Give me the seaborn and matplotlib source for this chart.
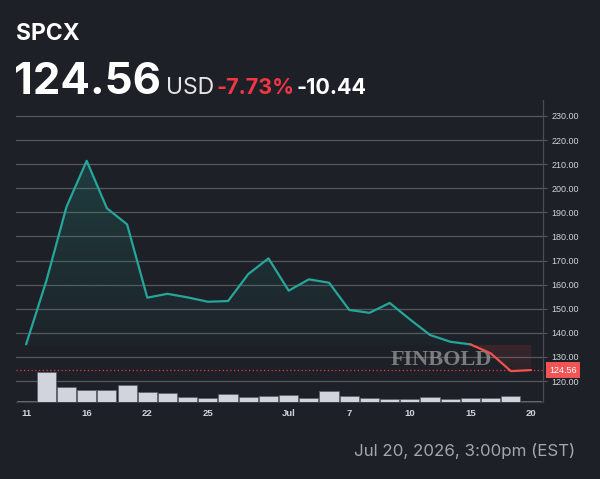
import numpy as np
import pandas as pd
import seaborn as sns
import matplotlib.pyplot as plt
from matplotlib.colors import LinearSegmentedColormap, to_rgb

# header texts
ticker = 'SPCX'
last_price = 124.56
currency = 'USD'
change_pct = '-7.73%'
change_abs = '-10.44'
timestamp = 'Jul 20, 2026, 3:00pm (EST)'

# daily series
prices = [135.2, 161.5, 192.3, 211.4, 191.7, 185.0, 154.6, 156.2, 154.7, 152.9,
          153.2, 164.4, 170.9, 157.5, 162.2, 160.8, 149.5, 148.3, 152.4, 145.6,
          139.1, 136.3, 135.2, 131.5, 124.1, 124.56]
volumes = [0.05, 1.50, 0.75, 0.60, 0.60, 0.83, 0.50, 0.45, 0.25, 0.20,
           0.40, 0.25, 0.30, 0.35, 0.22, 0.56, 0.30, 0.20, 0.17, 0.17,
           0.27, 0.17, 0.22, 0.22, 0.30, 0.05]
tick_pos = [0, 3, 6, 9, 13, 16, 19, 22, 25]
tick_labels = ['11', '16', '22', '25', 'Jul', '7', '10', '15', '20']
y_ticks = list(range(120, 240, 10))
prev_close = 135.0

bg = '#1d2026'
teal = '#26a69a'
red = '#ef5350'
grid = '#55585f'

sns.set_theme(style='dark', rc={'figure.facecolor': bg, 'axes.facecolor': bg,
                                'savefig.facecolor': bg})
plt.rcParams['font.family'] = ['Inter', 'DejaVu Sans']

df = pd.DataFrame({'i': np.arange(len(prices)), 'price': prices, 'vol': volumes})
split = 22
up = df.iloc[:split + 1]
down = df.iloc[split:]

fig = plt.figure(figsize=(6, 4.79), dpi=100)
ax = fig.add_axes([16 / 600, 1 - 402 / 479, 527 / 600, 302 / 479])
ax.set_facecolor(bg)

xlim = (-0.5, 25.59)
ylim = (111.29, 236.64)


# gradient fill between price and previous close
def grad_fill(sub, c, top, bottom, a_top, a_bot, where):
    poly = ax.fill_between(sub['i'], sub['price'], prev_close, where=where,
                           interpolate=True, color='none', lw=0)
    cmap = LinearSegmentedColormap.from_list(
        'g', [(*to_rgb(c), a_bot), (*to_rgb(c), a_top)])
    g = np.linspace(0, 1, 256).reshape(-1, 1)
    im = ax.imshow(g, extent=[xlim[0], xlim[1], bottom, top], origin='lower',
                   aspect='auto', cmap=cmap, zorder=1)
    im.set_clip_path(poly.get_paths()[0], transform=ax.transData)


grad_fill(up, teal, 215, prev_close, 0.22, 0.03, up['price'] >= prev_close)
grad_fill(down, red, prev_close, 122, 0.14, 0.05, down['price'] <= prev_close)

sns.lineplot(data=up, x='i', y='price', color=teal, lw=1.6, ax=ax, zorder=3)
sns.lineplot(data=down, x='i', y='price', color=red, lw=1.6, ax=ax, zorder=3)

ax.axhline(last_price, color='#f23645', lw=0.9, ls=(0, (1, 2)), zorder=2)

ax.set_xlim(*xlim)
ax.set_ylim(*ylim)
ax.grid(axis='y', color=grid, lw=0.9)
ax.grid(axis='x', visible=False)
ax.set_xlabel('')
ax.set_ylabel('')
for s in ['top', 'left']:
    ax.spines[s].set_visible(False)
ax.spines['right'].set_color('#4a4d54')
ax.spines['bottom'].set_color('#3a3d44')
ax.spines['right'].set_linewidth(0.9)
ax.spines['bottom'].set_linewidth(0.9)

# watermark
ax.text(441.5 / 600, 1 - 360 / 479, 'FINBOLD', transform=fig.transFigure,
        family='Liberation Serif', fontweight='bold', fontsize=16,
        color='#9a9a9a', alpha=0.75, ha='center', va='center', zorder=1.5)

# volume bars
ax2 = ax.twinx()
sns.barplot(data=df, x='i', y='vol', color='#d1d4dc', width=0.95,
            edgecolor='#5a5d63', linewidth=0.5, saturation=1, ax=ax2)
ax2.set_xlim(*xlim)
ax2.set_ylim(0, max(volumes) * 302 / 30)
ax2.set_yticks([])
ax2.set_xlabel('')
ax2.set_ylabel('')
for s in ax2.spines.values():
    s.set_visible(False)
ax2.tick_params(axis='both', left=False, right=False, bottom=False,
                labelleft=False, labelright=False, labelbottom=False)

# price axis on the right (after twinx, which moves it)
ax.yaxis.tick_right()
ax.yaxis.set_label_position('right')
ax.set_yticks(y_ticks)
ax.set_yticklabels([f'{v:.2f}' for v in y_ticks], family='Liberation Sans',
                   fontsize=6.5, color='#d1d4dc')
ax.tick_params(axis='y', left=False, right=True, labelleft=False,
               labelright=True, length=3, width=0.8, color=grid, pad=3)
ax.set_xticks(tick_pos)
ax.set_xticklabels(tick_labels, family='Liberation Sans', fontsize=6.8,
                   fontweight='bold', color='#d1d4dc')
ax.tick_params(axis='x', length=0, pad=5)

# last price tag
ax2.annotate(f'{last_price:.2f}', xy=(1, (last_price - ylim[0]) / (ylim[1] - ylim[0])),
             xycoords='axes fraction',
             xytext=(4.5, 0), textcoords='offset points', ha='left', va='center',
             family='Liberation Sans', fontsize=6.5, color='white',
             bbox=dict(boxstyle='square,pad=0.35', fc='#f05454', ec='none'),
             annotation_clip=False, zorder=10)

# header
fig.text(16 / 600, 1 - 40 / 479, ticker, fontsize=16.5, fontweight='bold',
         color='white', va='baseline')
fig.text(14 / 600, 1 - 94 / 479, f'{last_price:.2f}', fontsize=31.5,
         fontweight='bold', color='white', va='baseline')
fig.text(166 / 600, 1 - 94 / 479, currency, fontsize=16.5, color='#e6e6e6',
         va='baseline')
fig.text(216 / 600, 1 - 94 / 479, change_pct, fontsize=15.5, fontweight='bold',
         color='#f23645', va='baseline')
fig.text(297 / 600, 1 - 94 / 479, change_abs, fontsize=15.5, fontweight='bold',
         color='white', va='baseline')
fig.text(575 / 600, 1 - 456 / 479, timestamp, fontsize=12.2, color='#a3a6ab',
         ha='right', va='baseline')

fig.savefig('out.png', dpi=100)
